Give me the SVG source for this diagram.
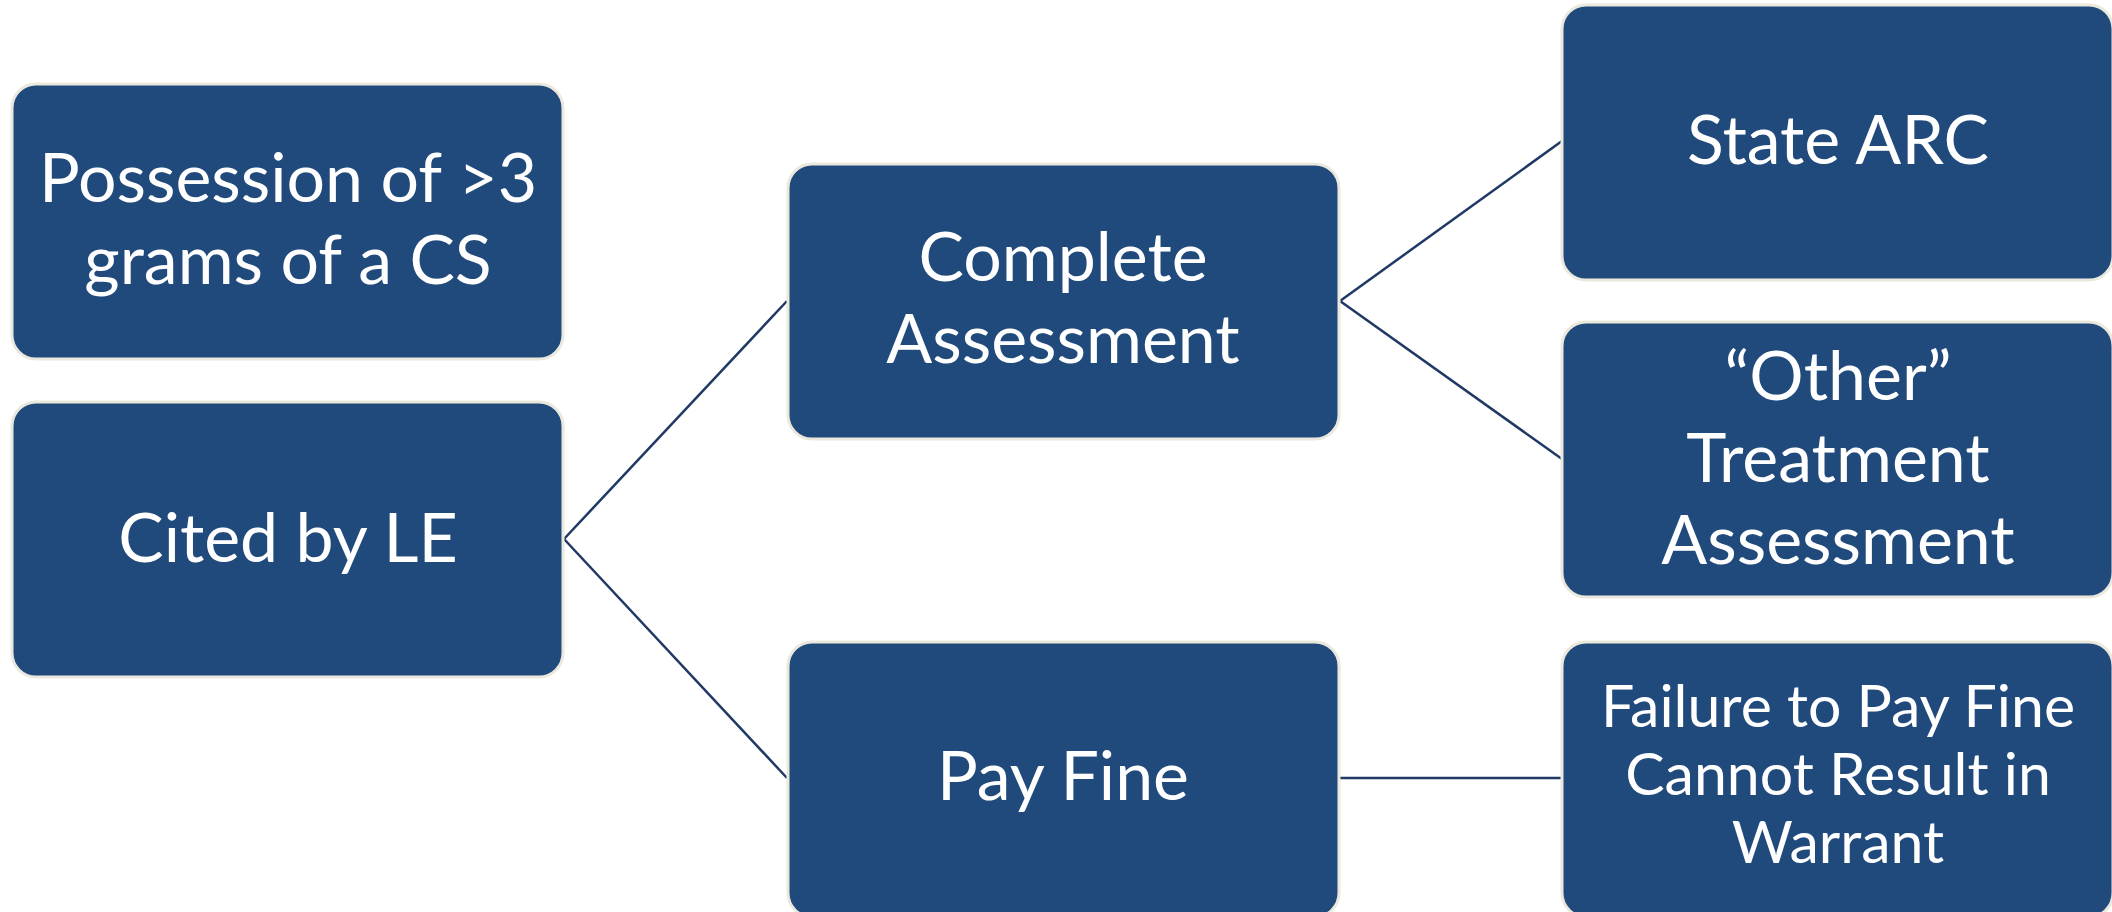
<svg xmlns="http://www.w3.org/2000/svg" width="2112" height="912" viewBox="0 0 2112 912">
  <style>
    .box { fill: #214a7c; stroke: #ebe8de; stroke-width: 3; }
    .lbl { fill: #ffffff; font-family: Lato, "Open Sans", "Liberation Sans", sans-serif; font-size: 68px; text-anchor: middle; }
    .sm { font-size: 59px; }
    .conn { stroke: #1f3864; stroke-width: 2.5; fill: none; }
  </style>
  <rect width="2112" height="912" fill="#ffffff"/>
  <g id="connectors">
    <line class="conn" x1="564" y1="539" x2="787" y2="301"/>
    <line class="conn" x1="564" y1="539" x2="787" y2="778"/>
    <line class="conn" x1="1340" y1="301" x2="1562" y2="141"/>
    <line class="conn" x1="1340" y1="301" x2="1562" y2="459"/>
    <line class="conn" x1="1340" y1="778" x2="1562" y2="778"/>
  </g>
  <g id="node-possession">
    <rect class="box" x="12" y="84" width="551" height="275" rx="24"/>
    <text class="lbl"><tspan x="288" y="202">Possession of &gt;3</tspan><tspan x="288" y="284">grams of a CS</tspan></text>
  </g>
  <g id="node-cited">
    <rect class="box" x="12" y="402" width="551" height="275" rx="24"/>
    <text class="lbl" x="288" y="562">Cited by LE</text>
  </g>
  <g id="node-complete">
    <rect class="box" x="788" y="164" width="551" height="275" rx="24"/>
    <text class="lbl"><tspan x="1063" y="281">Complete</tspan><tspan x="1063" y="363">Assessment</tspan></text>
  </g>
  <g id="node-payfine">
    <rect class="box" x="788" y="642" width="551" height="275" rx="24"/>
    <text class="lbl" x="1063" y="800">Pay Fine</text>
  </g>
  <g id="node-statearc">
    <rect class="box" x="1562" y="5" width="551" height="275" rx="24"/>
    <text class="lbl" x="1838" y="164">State ARC</text>
  </g>
  <g id="node-other">
    <rect class="box" x="1562" y="322" width="551" height="275" rx="24"/>
    <text class="lbl"><tspan x="1838" y="400">“Other”</tspan><tspan x="1838" y="482">Treatment</tspan><tspan x="1838" y="564">Assessment</tspan></text>
  </g>
  <g id="node-failure">
    <rect class="box" x="1562" y="642" width="551" height="275" rx="24"/>
    <text class="lbl sm"><tspan x="1838" y="727">Failure to Pay Fine</tspan><tspan x="1838" y="795">Cannot Result in</tspan><tspan x="1838" y="863">Warrant</tspan></text>
  </g>
</svg>
